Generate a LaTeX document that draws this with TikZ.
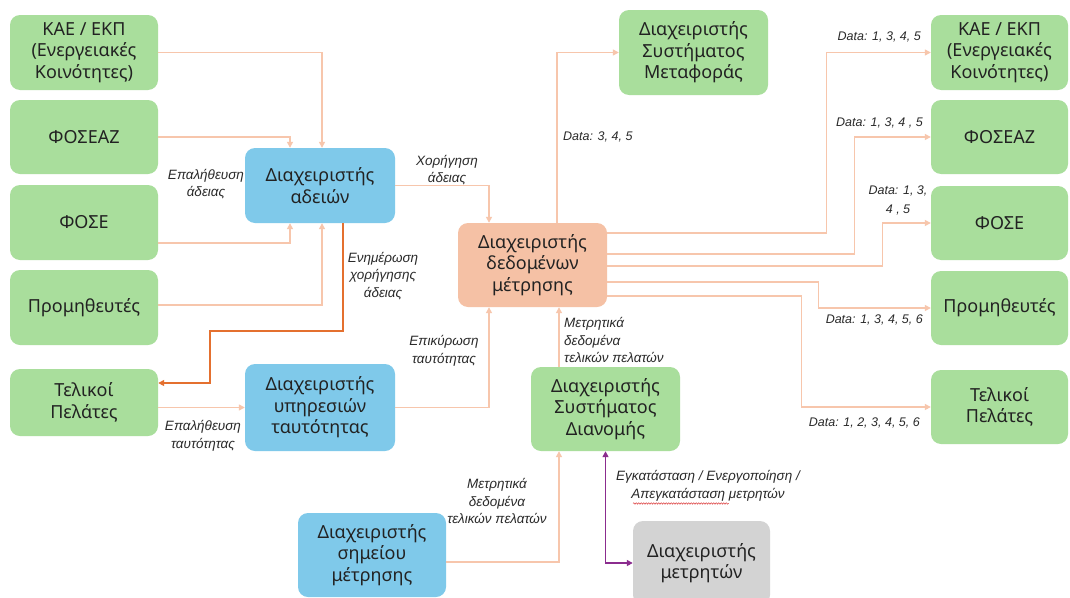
\documentclass[tikz,border=0pt]{standalone}
\usepackage{fontspec}
\setmainfont{Noto Sans}
\newfontfamily\lblfont{Liberation Sans}
\usetikzlibrary{arrows.meta,decorations.pathmorphing}
\definecolor{boxgreen}{HTML}{A9DE9C}
\definecolor{boxblue}{HTML}{7FC9EA}
\definecolor{boxpeach}{HTML}{F5C1A5}
\definecolor{boxgrey}{HTML}{D3D3D3}
\definecolor{linepeach}{HTML}{F7C6AC}
\definecolor{darkorange}{HTML}{E4702F}
\definecolor{purpleline}{HTML}{8B2C8E}
\definecolor{txt}{HTML}{222222}
\definecolor{lbltxt}{HTML}{2A2A2A}
\definecolor{spellred}{HTML}{E05050}
\begin{document}
\begin{tikzpicture}[x=1pt,y=-1pt,
  box/.style={rounded corners=10pt, inner sep=2pt, align=center, text=txt,
    font=\fontsize{18}{21.5}\selectfont},
  gbox/.style={box, fill=boxgreen},
  bbox/.style={box, fill=boxblue},
  pbox/.style={box, fill=boxpeach},
  greybox/.style={box, fill=boxgrey},
  conn/.style={draw=linepeach, line width=1.3pt,
    -{Triangle[length=6pt,width=6pt]}},
  darkconn/.style={draw=darkorange, line width=1.8pt,
    -{Triangle[length=6pt,width=6pt]}},
  purpconn/.style={draw=purpleline, line width=1.8pt,
    {Triangle[length=6pt,width=6pt]}-{Triangle[length=6pt,width=6pt]}},
  lbl/.style={font=\lblfont\itshape\fontsize{13.5}{17.5}\selectfont,
    align=center, inner sep=0pt, text=lbltxt},
  datalbl/.style={lbl, font=\lblfont\itshape\fontsize{12.5}{19}\selectfont},
  squiggle/.style={draw=spellred, line width=0.6pt,
    decorate, decoration={snake, amplitude=0.7pt, segment length=2.5pt}}]
\useasboundingbox (0,0) rectangle (1070,597);
\fill[white] (0,0) rectangle (1070,597);

% left column
\node[gbox, minimum width=148pt, minimum height=75pt] (kae1) at (84,52.5) {ΚΑΕ / ΕΚΠ\\(Ενεργειακές\\Κοινότητες)};
\node[gbox, minimum width=148pt, minimum height=74pt] (foseaz1) at (84,137) {ΦΟΣΕΑΖ};
\node[gbox, minimum width=148pt, minimum height=75pt] (fose1) at (84,222.5) {ΦΟΣΕ};
\node[gbox, minimum width=148pt, minimum height=75pt] (prom1) at (84,307.5) {Προμηθευτές};
\node[gbox, minimum width=148pt, minimum height=67pt] (tel1) at (84,402.5) {Τελικοί\\Πελάτες};

% middle
\node[bbox, minimum width=150pt, minimum height=75pt] (adeies) at (320,185.5) {Διαχειριστής\\αδειών};
\node[bbox, minimum width=150pt, minimum height=87pt] (tautotitas) at (320,407.5) {Διαχειριστής\\υπηρεσιών\\ταυτότητας};
\node[bbox, minimum width=148pt, minimum height=84pt] (simeiou) at (372,555) {Διαχειριστής\\σημείου\\μέτρησης};
\node[pbox, minimum width=149pt, minimum height=84pt] (dedomena) at (532.5,265) {Διαχειριστής\\δεδομένων\\μέτρησης};
\node[gbox, minimum width=149pt, minimum height=85pt] (metafora) at (693.5,52.5) {Διαχειριστής\\Συστήματος\\Μεταφοράς};
\node[gbox, minimum width=149pt, minimum height=84pt] (dianomi) at (605.5,409) {Διαχειριστής\\Συστήματος\\Διανομής};
\node[greybox, minimum width=137pt, minimum height=84pt] (metrites) at (701.5,563) {Διαχειριστής\\μετρητών};

% right column
\node[gbox, minimum width=137pt, minimum height=75pt] (kae2) at (999.5,52.5) {ΚΑΕ / ΕΚΠ\\(Ενεργειακές\\Κοινότητες)};
\node[gbox, minimum width=137pt, minimum height=74pt] (foseaz2) at (999.5,137) {ΦΟΣΕΑΖ};
\node[gbox, minimum width=137pt, minimum height=74pt] (fose2) at (999.5,223) {ΦΟΣΕ};
\node[gbox, minimum width=137pt, minimum height=74pt] (prom2) at (999.5,308) {Προμηθευτές};
\node[gbox, minimum width=137pt, minimum height=74pt] (tel2) at (999.5,407) {Τελικοί\\Πελάτες};

% connectors into licence manager
\draw[conn] (kae1.east) -| ([xshift=2pt]adeies.north);
\draw[conn] (foseaz1.east) -| ([xshift=-30pt]adeies.north);
\draw[conn] ([yshift=-20.5pt]fose1.east) -| ([xshift=-30pt]adeies.south);
\draw[conn] ([yshift=2.5pt]prom1.east) -| ([xshift=2pt]adeies.south);

% dark orange update
\coordinate (dk) at (210,331);
\draw[darkconn] ([xshift=23pt]adeies.south) |- (dk) |- ([yshift=19.5pt]tel1.east);

% end customers -> identity
\draw[conn] (tautotitas.west -| tel1.east) -- (tautotitas.west);

% into metering data manager
\draw[conn] (adeies.east) -| ([xshift=-43.5pt]dedomena.north);
\draw[conn] (tautotitas.east) -| ([xshift=-43.5pt]dedomena.south);
\draw[conn] ([xshift=-46.5pt]dianomi.north) -- ([xshift=-46.5pt]dianomi.north |- dedomena.south);
\draw[conn] ([yshift=-7pt]simeiou.east) -| ([xshift=-46.5pt]dianomi.south);

% purple
\draw[purpconn] (dianomi.south) |- (metrites.west);

% out of metering data manager
\draw[conn] ([xshift=24.5pt]dedomena.north) |- (metafora.west);
\draw[conn] ([yshift=32pt]dedomena.east) -| ([xshift=-104pt]kae2.west) -- (kae2.west);
\draw[conn] ([yshift=11pt]dedomena.east) -| ([xshift=-76pt]foseaz2.west) -- (foseaz2.west);
\draw[conn] ([yshift=-1pt]dedomena.east) -| ([xshift=-48pt]fose2.west) -- (fose2.west);
\draw[conn] ([yshift=-17pt]dedomena.east) -| ([xshift=-112pt]prom2.west) -- (prom2.west);
\draw[conn] ([yshift=-31pt]dedomena.east) -| ([xshift=-129pt]tel2.west) -- (tel2.west);

% labels
\node[lbl] (l1) at (206,184) {Επαλήθευση\\άδειας};
\node[lbl] (l2) at (383,276) {Ενημέρωση\\χορήγησης\\άδειας};
\node[lbl] (l3) at (447,170) {Χορήγηση\\άδειας};
\node[lbl] (l4) at (444,351) {Επικύρωση\\ταυτότητας};
\node[lbl, anchor=west, align=left] (l5) at (564,340) {Μετρητικά\\δεδομένα\\τελικών πελατών};
\node[lbl] (l6) at (497,501) {Μετρητικά\\δεδομένα\\τελικών πελατών};
\node[lbl] (l7) at (203,436) {Επαλήθευση\\ταυτότητας};
\node[datalbl, anchor=west] (l8) at (563,137) {Data: 3, 4, 5};
\node[datalbl, anchor=east] (l9) at (921,37) {Data: 1, 3, 4, 5};
\node[datalbl, anchor=east] (l10) at (923,123) {Data: 1, 3, 4 , 5};
\node[datalbl] (l11) at (898,200) {Data: 1, 3,\\4 , 5};
\node[datalbl, anchor=east] (l12) at (923,320) {Data: 1, 3, 4, 5, 6};
\node[datalbl, anchor=east] (l13) at (920,423) {Data: 1, 2, 3, 4, 5, 6};
\node[lbl] (l14) at (708,486) {Εγκατάσταση / Ενεργοποίηση /\\Απεγκατάσταση μετρητών};
\draw[squiggle] ([xshift=17pt,yshift=-2pt]l14.south west) -- ([xshift=113pt,yshift=-2pt]l14.south west);
\end{tikzpicture}
\end{document}
